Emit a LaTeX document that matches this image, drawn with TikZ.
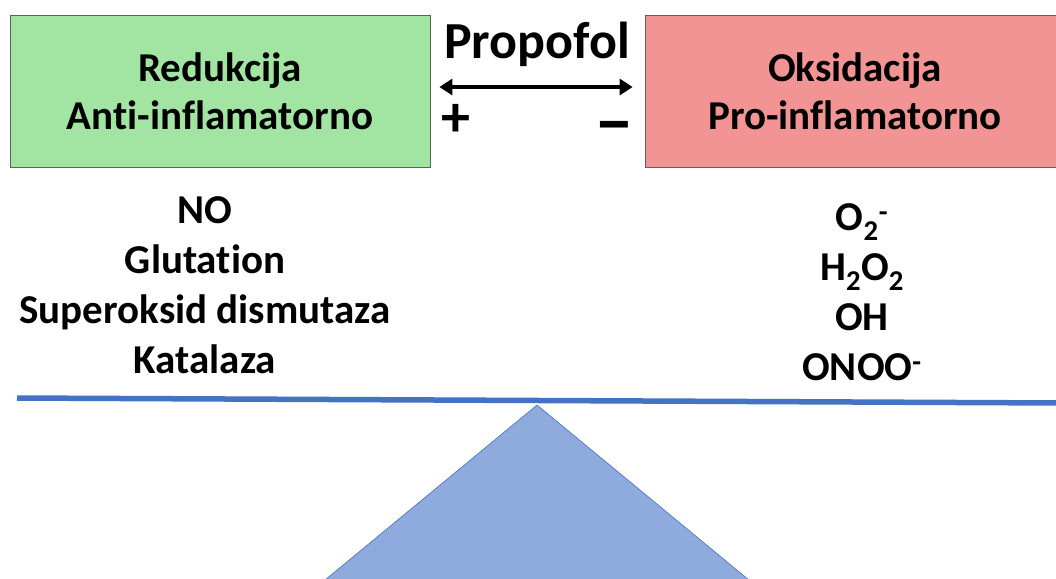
\documentclass[tikz,border=0pt]{standalone}
\usepackage{fontspec}
\setmainfont{Carlito}[Ligatures=NoCommon]
\usetikzlibrary{arrows.meta,positioning}
\definecolor{boxgreen}{RGB}{162,228,162}
\definecolor{boxred}{RGB}{242,148,148}
\definecolor{beamblue}{RGB}{68,114,196}
\definecolor{pivotblue}{RGB}{143,170,220}

\begin{document}
\begin{tikzpicture}[x=1pt,y=-1pt,font=\bfseries\fontsize{41}{48}\selectfont,
  statebox/.style={draw=gray!75!black,line width=0.8pt,minimum width=420pt,
    minimum height=152pt,align=center,inner sep=0pt},
  species/.style={align=center,font=\bfseries\fontsize{41}{50}\selectfont}]
   \clip (0,0) rectangle (1056,578);
   \node[statebox,fill=boxgreen] (reduk) at (220,91) {Redukcija\\Anti-inflamatorno};
   \node[statebox,fill=boxred] (oksid) at (855,91) {Oksidacija\\Pro-inflamatorno};
   \node[font=\bfseries\fontsize{52}{56}\selectfont] (propofol) at (537,44) {Propofol};
   \node[font=\bfseries\fontsize{58}{60}\selectfont] (plus) at (456,120) {+};
   \node[font=\bfseries\fontsize{72}{60}\selectfont] (minus) at (614,134) {−};

   \draw[{Triangle[length=13pt,width=16pt]}-{Triangle[length=13pt,width=16pt]},line width=3.5pt,
     shorten <=9pt,shorten >=12pt]
     ([yshift=4pt]reduk.east) -- ([yshift=4pt]oksid.west);

   \node[species] (antiox) at (205,285) {NO\\Glutation\\Superoksid dismutaza\\Katalaza};
   \node[species] (radicals) at (862,292) {O\textsubscript{2}\textsuperscript{-}\\H\textsubscript{2}O\textsubscript{2}\\OH\\ONOO\textsuperscript{-}};

   % vaga
   \coordinate (beam_l) at (17,398);
   \coordinate (beam_r) at (1062,403);
   \coordinate (pivot) at (537,405);
   \draw[beamblue,line width=5.5pt] (beam_l) -- (beam_r);
   \filldraw[fill=pivotblue,draw=beamblue,line width=0.6pt]
     (pivot) -- (749,580) -- (325,580) -- cycle;
\end{tikzpicture}
\end{document}
